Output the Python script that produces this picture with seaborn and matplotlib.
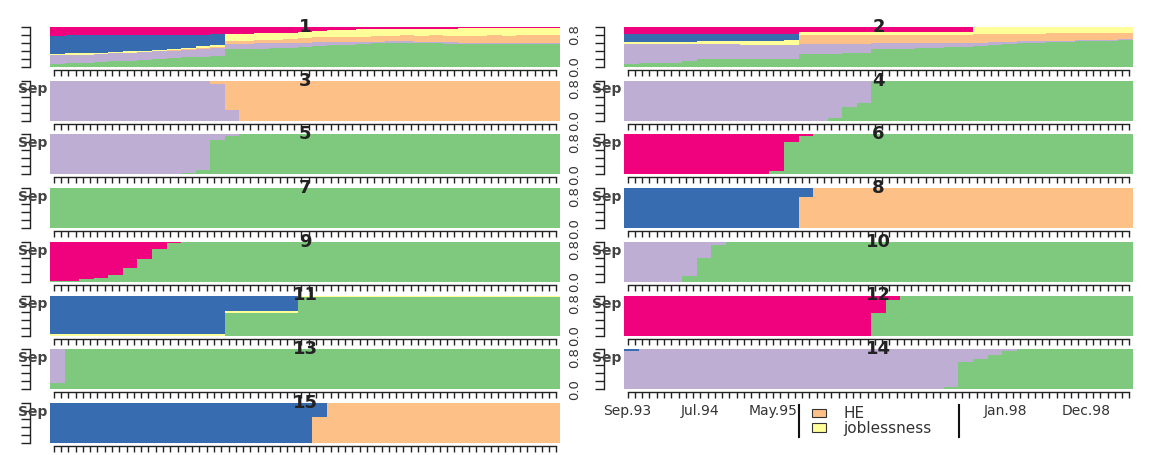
import numpy as np
import matplotlib
matplotlib.use("Agg")
import matplotlib.pyplot as plt
import seaborn as sns
from matplotlib.patches import Patch

# ---------------- data (state shares per 2-month bin, Sep.93 .. Jun.99) ----------------
states = ["EM", "FE", "HE", "JL", "SC", "TR"]          # stacking order, bottom -> top
state_labels = ["employment", "further education", "HE", "joblessness", "school", "training"]
legend_states = ["HE", "JL"]
legend_texts = ["HE", "joblessness"]
tick_text = ["Sep.93", "Jul.94", "May.95", "Jan.98", "Dec.98"]
tick_month = [0, 10, 20, 52, 63]
n_months = 70

c1_EM = [.08, .09, .10, .12, .14, .16, .18, .20, .22, .24,
         .26, .28, .45, .45, .46, .47, .48, .49, .52, .54,
         .56, .58, .59, .60, .60, .59, .59, .58, .58, .58,
         .58, .57, .57, .57, .57]
c1_FE = [.22, .22, .21, .21, .20, .20, .19, .19, .19, .19,
         .19, .19, .13, .13, .13, .12, .12, .12, .11, .09,
         .07, .05, .04, .04, .04, .04, .04, .04, .03, .03,
         .03, .03, .03, .03, .03]
c1_HE = [0, 0, 0, 0, 0, 0, 0, 0, .01, .01,
         .02, .02, .08, .08, .09, .09, .10, .11, .11, .12,
         .13, .13, .14, .14, .15, .15, .16, .16, .17, .17,
         .18, .18, .19, .19, .19]
c1_JL = [.03, .03, .03, .03, .04, .04, .04, .04, .04, .04,
         .05, .05, .17, .17, .16, .17, .16, .16, .16, .17,
         .17, .18, .18, .17, .17, .18, .17, .18, .19, .19,
         .18, .19, .19, .19, .19]
c1_SC = [.45, .45, .45, .43, .41, .40, .39, .37, .34, .33,
         .29, .28, 0, 0, 0, 0, 0, 0, 0, 0,
         0, 0, 0, 0, 0, 0, 0, 0, 0, 0,
         0, 0, 0, 0, 0]
c1_TR = [.22, .21, .21, .21, .21, .20, .20, .20, .20, .19,
         .19, .18, .17, .17, .16, .15, .14, .12, .10, .08,
         .07, .06, .05, .05, .04, .04, .04, .04, .03, .03,
         .03, .03, .02, .02, .02]

c2_EM = [.08, .09, .10, .11, .14, .20, .21, .19, .19, .20,
         .21, .20, .32, .32, .33, .34, .36, .44, .45, .46,
         .47, .48, .49, .50, .53, .55, .57, .59, .61, .62,
         .63, .64, .65, .66, .67]
c2_FE = [.49, .48, .47, .46, .43, .38, .37, .38, .37, .36,
         .35, .34, .25, .25, .24, .23, .21, .15, .14, .13,
         .12, .11, .10, .09, .08, .07, .06, .05, .04, .04,
         .03, .03, .03, .02, .02]
c2_HE = [0, 0, 0, 0, 0, 0, 0, 0, 0, 0,
         0, 0, .22, .22, .22, .22, .22, .21, .21, .21,
         .21, .21, .21, .21, .21, .20, .20, .19, .18, .18,
         .18, .17, .17, .17, .17]
c2_JL = [.05, .05, .05, .05, .05, .07, .08, .08, .08, .09,
         .09, .13, .08, .08, .08, .08, .08, .08, .08, .08,
         .08, .08, .08, .08, .17, .17, .16, .16, .16, .15,
         .15, .15, .15, .15, .14]
c2_SC = [.21, .21, .21, .21, .21, .18, .17, .18, .18, .17,
         .17, .16, 0, 0, 0, 0, 0, 0, 0, 0,
         0, 0, 0, 0, 0, 0, 0, 0, 0, 0,
         0, 0, 0, 0, 0]
c2_TR = [.17, .17, .17, .17, .17, .17, .17, .17, .18, .18,
         .18, .17, .13, .13, .13, .13, .13, .12, .12, .12,
         .12, .12, .12, .12, .01, .01, .01, .01, .01, .01,
         .01, .01, 0, 0, 0]

c3_FE = [1, 1, 1, 1, 1, 1, 1, 1, 1, 1,
         1, .92, .28, 0, 0, 0, 0, 0, 0, 0,
         0, 0, 0, 0, 0, 0, 0, 0, 0, 0,
         0, 0, 0, 0, 0]
c3_HE = [0, 0, 0, 0, 0, 0, 0, 0, 0, 0,
         0, .08, .72, 1, 1, 1, 1, 1, 1, 1,
         1, 1, 1, 1, 1, 1, 1, 1, 1, 1,
         1, 1, 1, 1, 1]

c4_EM = [0, 0, 0, 0, 0, 0, 0, 0, 0, 0,
         0, 0, 0, 0, .08, .35, .45, 1, 1, 1,
         1, 1, 1, 1, 1, 1, 1, 1, 1, 1,
         1, 1, 1, 1, 1]
c4_FE = [1, 1, 1, 1, 1, 1, 1, 1, 1, 1,
         1, 1, 1, 1, .92, .65, .55, 0, 0, 0,
         0, 0, 0, 0, 0, 0, 0, 0, 0, 0,
         0, 0, 0, 0, 0]

c5_EM = [0, 0, 0, 0, 0, 0, 0, 0, 0, .03,
         .10, .85, .97, 1, 1, 1, 1, 1, 1, 1,
         1, 1, 1, 1, 1, 1, 1, 1, 1, 1,
         1, 1, 1, 1, 1]
c5_FE = [1, 1, 1, 1, 1, 1, 1, 1, 1, .97,
         .90, .15, .03, 0, 0, 0, 0, 0, 0, 0,
         0, 0, 0, 0, 0, 0, 0, 0, 0, 0,
         0, 0, 0, 0, 0]

c6_EM = [0, 0, 0, 0, 0, 0, 0, 0, 0, 0,
         .08, .82, .97, 1, 1, 1, 1, 1, 1, 1,
         1, 1, 1, 1, 1, 1, 1, 1, 1, 1,
         1, 1, 1, 1, 1]
c6_TR = [1, 1, 1, 1, 1, 1, 1, 1, 1, 1,
         .92, .18, .03, 0, 0, 0, 0, 0, 0, 0,
         0, 0, 0, 0, 0, 0, 0, 0, 0, 0,
         0, 0, 0, 0, 0]

c7_EM = [1, 1, 1, 1, 1, 1, 1, 1, 1, 1,
         1, 1, 1, 1, 1, 1, 1, 1, 1, 1,
         1, 1, 1, 1, 1, 1, 1, 1, 1, 1,
         1, 1, 1, 1, 1]

c8_HE = [0, 0, 0, 0, 0, 0, 0, 0, 0, 0,
         0, 0, .77, 1, 1, 1, 1, 1, 1, 1,
         1, 1, 1, 1, 1, 1, 1, 1, 1, 1,
         1, 1, 1, 1, 1]
c8_SC = [1, 1, 1, 1, 1, 1, 1, 1, 1, 1,
         1, 1, .23, 0, 0, 0, 0, 0, 0, 0,
         0, 0, 0, 0, 0, 0, 0, 0, 0, 0,
         0, 0, 0, 0, 0]

c9_EM = [.01, .03, .06, .10, .17, .35, .58, .83, .97, 1,
         1, 1, 1, 1, 1, 1, 1, 1, 1, 1,
         1, 1, 1, 1, 1, 1, 1, 1, 1, 1,
         1, 1, 1, 1, 1]
c9_TR = [.99, .97, .94, .90, .83, .65, .42, .17, .03, 0,
         0, 0, 0, 0, 0, 0, 0, 0, 0, 0,
         0, 0, 0, 0, 0, 0, 0, 0, 0, 0,
         0, 0, 0, 0, 0]

c10_EM = [0, 0, 0, 0, .15, .60, .93, 1, 1, 1,
          1, 1, 1, 1, 1, 1, 1, 1, 1, 1,
          1, 1, 1, 1, 1, 1, 1, 1, 1, 1,
          1, 1, 1, 1, 1]
c10_FE = [1, 1, 1, 1, .85, .40, .07, 0, 0, 0,
          0, 0, 0, 0, 0, 0, 0, 0, 0, 0,
          0, 0, 0, 0, 0, 0, 0, 0, 0, 0,
          0, 0, 0, 0, 0]

c11_EM = [0, 0, 0, 0, 0, 0, 0, 0, 0, 0,
          0, 0, .57, .57, .57, .57, .57, .97, .97, .97,
          .97, .97, .97, .97, .97, .97, .97, .97, .97, .97,
          .97, .97, .97, .97, .97]
c11_JL = [.04, .04, .04, .04, .04, .04, .04, .04, .04, .04,
          .04, .04, .04, .04, .04, .04, .04, .03, .03, .03,
          .03, .03, .03, .03, .03, .03, .03, .03, .03, .03,
          .03, .03, .03, .03, .03]
c11_SC = [.96, .96, .96, .96, .96, .96, .96, .96, .96, .96,
          .96, .96, .39, .39, .39, .39, .39, 0, 0, 0,
          0, 0, 0, 0, 0, 0, 0, 0, 0, 0,
          0, 0, 0, 0, 0]

c12_EM = [0, 0, 0, 0, 0, 0, 0, 0, 0, 0,
          0, 0, 0, 0, 0, 0, 0, .57, .88, 1,
          1, 1, 1, 1, 1, 1, 1, 1, 1, 1,
          1, 1, 1, 1, 1]
c12_TR = [1, 1, 1, 1, 1, 1, 1, 1, 1, 1,
          1, 1, 1, 1, 1, 1, 1, .43, .12, 0,
          0, 0, 0, 0, 0, 0, 0, 0, 0, 0,
          0, 0, 0, 0, 0]

c13_EM = [.15, 1, 1, 1, 1, 1, 1, 1, 1, 1,
          1, 1, 1, 1, 1, 1, 1, 1, 1, 1,
          1, 1, 1, 1, 1, 1, 1, 1, 1, 1,
          1, 1, 1, 1, 1]
c13_FE = [.85, 0, 0, 0, 0, 0, 0, 0, 0, 0,
          0, 0, 0, 0, 0, 0, 0, 0, 0, 0,
          0, 0, 0, 0, 0, 0, 0, 0, 0, 0,
          0, 0, 0, 0, 0]

c14_EM = [0, 0, 0, 0, 0, 0, 0, 0, 0, 0,
          0, 0, 0, 0, 0, 0, 0, 0, 0, 0,
          0, 0, .05, .68, .75, .85, .95, 1, 1, 1,
          1, 1, 1, 1, 1]
c14_FE = [.95, 1, 1, 1, 1, 1, 1, 1, 1, 1,
          1, 1, 1, 1, 1, 1, 1, 1, 1, 1,
          1, 1, .95, .32, .25, .15, .05, 0, 0, 0,
          0, 0, 0, 0, 0]
c14_SC = [.05, 0, 0, 0, 0, 0, 0, 0, 0, 0,
          0, 0, 0, 0, 0, 0, 0, 0, 0, 0,
          0, 0, 0, 0, 0, 0, 0, 0, 0, 0,
          0, 0, 0, 0, 0]

c15_HE = [0, 0, 0, 0, 0, 0, 0, 0, 0, 0,
          0, 0, 0, 0, 0, 0, 0, 0, .66, 1,
          1, 1, 1, 1, 1, 1, 1, 1, 1, 1,
          1, 1, 1, 1, 1]
c15_SC = [1, 1, 1, 1, 1, 1, 1, 1, 1, 1,
          1, 1, 1, 1, 1, 1, 1, 1, .34, 0,
          0, 0, 0, 0, 0, 0, 0, 0, 0, 0,
          0, 0, 0, 0, 0]

clusters = {
    1: {"EM": c1_EM, "FE": c1_FE, "HE": c1_HE, "JL": c1_JL, "SC": c1_SC, "TR": c1_TR},
    2: {"EM": c2_EM, "FE": c2_FE, "HE": c2_HE, "JL": c2_JL, "SC": c2_SC, "TR": c2_TR},
    3: {"FE": c3_FE, "HE": c3_HE},
    4: {"EM": c4_EM, "FE": c4_FE},
    5: {"EM": c5_EM, "FE": c5_FE},
    6: {"EM": c6_EM, "TR": c6_TR},
    7: {"EM": c7_EM},
    8: {"HE": c8_HE, "SC": c8_SC},
    9: {"EM": c9_EM, "TR": c9_TR},
    10: {"EM": c10_EM, "FE": c10_FE},
    11: {"EM": c11_EM, "JL": c11_JL, "SC": c11_SC},
    12: {"EM": c12_EM, "TR": c12_TR},
    13: {"EM": c13_EM, "FE": c13_FE},
    14: {"EM": c14_EM, "FE": c14_FE, "SC": c14_SC},
    15: {"HE": c15_HE, "SC": c15_SC},
}

# ---------------- style ----------------
sns.set_theme(style="white")
plt.rcParams["font.family"] = ["DejaVu Sans"]
palette = dict(zip(states, sns.color_palette("Accent", 6)))

W, H = 1150, 455
fig = plt.figure(figsize=(W / 100, H / 100), dpi=100)
fig.patch.set_facecolor("white")

col_x = [50, 624]
col_w = [510, 509]
row_top0, row_step, panel_h = 27, 53.7, 40
PT = 0.72  # points per pixel at 100 dpi


def px_rect(x, y_top, w, h):
    return [x / W, 1 - (y_top + h) / H, w / W, h / H]


bin_w = 2
bin_start = np.arange(n_months // bin_w) * bin_w
month_ticks = np.arange(n_months) + 0.5
dark = "#222222"
txt = "#333333"

for n, cl in clusters.items():
    r, c = (n - 1) // 2, (n - 1) % 2
    ax = fig.add_axes(px_rect(col_x[c], row_top0 + r * row_step, col_w[c], panel_h))
    bottom = np.zeros(len(bin_start))
    for s in states:
        if s in cl:
            vals = np.asarray(cl[s], dtype=float)
            ax.bar(bin_start, vals, width=bin_w, bottom=bottom, align="edge",
                   color=palette[s], linewidth=0, antialiased=False)
            bottom = bottom + vals
    ax.set_xlim(0, n_months)
    ax.set_ylim(0, 1)
    ax.set_facecolor("white")
    for sp in ["top", "right"]:
        ax.spines[sp].set_visible(False)
    ax.spines["bottom"].set_position(("outward", 3 * PT))
    ax.spines["bottom"].set_bounds(0.5, n_months - 0.5)
    ax.spines["left"].set_position(("outward", 20 * PT))
    ax.spines["left"].set_bounds(0, 1)
    for sp in ["bottom", "left"]:
        ax.spines[sp].set_color(dark)
        ax.spines[sp].set_linewidth(1.0)

    xl = [""] * n_months
    if n == 14:
        for t, m in zip(tick_text, tick_month):
            xl[m] = t
    ax.set_xticks(month_ticks)
    ax.set_xticklabels(xl)
    ax.tick_params(axis="x", bottom=True, direction="out", length=6 * PT, width=1,
                   color=dark, pad=6 * PT, labelsize=10, labelcolor=txt)

    ax.set_yticks([0, .2, .4, .6, .8, 1.0])
    if c == 1:
        ax.set_yticklabels(["0.0", "", "", "", "0.8", ""], rotation=90, va="center")
    else:
        ax.set_yticklabels([""] * 6)
    ax.tick_params(axis="y", left=True, direction="out", length=9 * PT, width=1,
                   color=dark, pad=14 * PT, labelsize=9.5, labelcolor=txt)
    ax.grid(False)

    ax.text(0.5, 1.0, str(n), transform=ax.transAxes, ha="center", va="center",
            fontsize=13, fontweight="bold", color=dark, zorder=10, clip_on=False)
    if n >= 3:
        ax.text(-0.006, 0.78, "Sep", transform=ax.transAxes, ha="right", va="center",
                fontsize=10, fontweight="bold", color="#444444", clip_on=False)

# ---------------- legend ----------------
lx0, lx1, ly0, ly1 = 799, 959, 405, 437
lax = fig.add_axes(px_rect(lx0, ly0, lx1 - lx0, ly1 - ly0))
lax.set_facecolor("white")
lax.set_xticks([])
lax.set_yticks([])
for sp in ["top", "bottom"]:
    lax.spines[sp].set_visible(False)
for sp in ["left", "right"]:
    lax.spines[sp].set_visible(True)
    lax.spines[sp].set_color("#111111")
    lax.spines[sp].set_linewidth(1.5)
handles = [Patch(facecolor=palette[s], edgecolor="#333333", linewidth=0.8) for s in legend_states]
lax.legend(handles, legend_texts, loc="center left", bbox_to_anchor=(0.08, 0.5),
           frameon=False, fontsize=11, handlelength=0.95, handleheight=0.5,
           labelspacing=-0.05, borderpad=0, borderaxespad=0, handletextpad=1.1,
           labelcolor=txt)

fig.savefig("out.png", dpi=100, facecolor="white")
